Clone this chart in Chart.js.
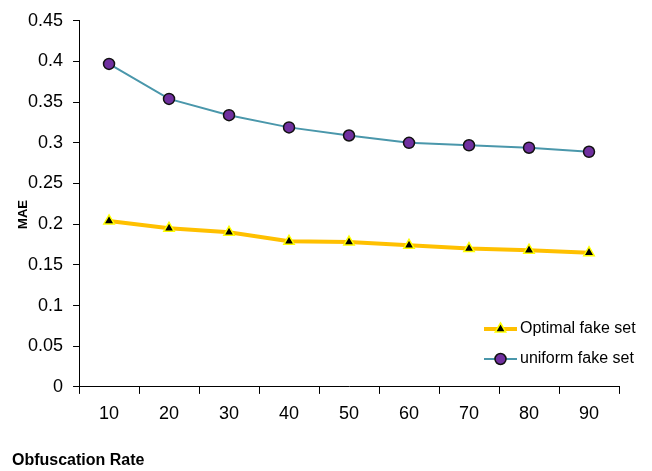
<!DOCTYPE html>
<html>
<head>
<meta charset="utf-8">
<script src="https://cdn.jsdelivr.net/npm/chart.js@4"></script>
<style>
  html, body { margin: 0; padding: 0; background: #fff; }
  #wrap { width: 652px; height: 471px; }
</style>
</head>
<body>
<div id="wrap"><canvas id="chart" width="652" height="471"></canvas></div>
<script>
var rates = ["10", "20", "30", "40", "50", "60", "70", "80", "90"];
var optimalFake = [0.204, 0.195, 0.190, 0.179, 0.178, 0.174, 0.170, 0.168, 0.165];
var uniformFake = [0.397, 0.354, 0.334, 0.319, 0.309, 0.300, 0.297, 0.294, 0.289];
var yTicks = [0, 0.05, 0.1, 0.15, 0.2, 0.25, 0.3, 0.35, 0.4, 0.45];

var FONT = "'Liberation Sans', Arial, sans-serif";

// legend drawn inside the plot, line + marker like the original
var insideLegend = {
    id: 'insideLegend',
    afterDraw: function (chart) {
        var ctx = chart.ctx;
        var x0 = 484, x1 = 517;
        var rows = [329, 359];
        chart.data.datasets.forEach(function (ds, i) {
            var y = rows[i];
            var cx = (x0 + x1) / 2;
            var r = ds.pointRadius;
            ctx.save();
            ctx.strokeStyle = ds.borderColor;
            ctx.lineWidth = ds.borderWidth;
            ctx.beginPath();
            ctx.moveTo(x0, y);
            ctx.lineTo(x1, y);
            ctx.stroke();
            ctx.fillStyle = ds.pointBackgroundColor;
            ctx.strokeStyle = ds.pointBorderColor;
            ctx.lineWidth = ds.pointBorderWidth;
            ctx.beginPath();
            if (ds.pointStyle === 'triangle') {
                ctx.moveTo(cx, y - r);
                ctx.lineTo(cx + r * 0.87, y + r * 0.5);
                ctx.lineTo(cx - r * 0.87, y + r * 0.5);
                ctx.closePath();
            } else {
                ctx.arc(cx, y, r, 0, Math.PI * 2);
            }
            ctx.fill();
            ctx.stroke();
            ctx.fillStyle = '#000';
            ctx.font = '16px ' + FONT;
            ctx.textBaseline = 'middle';
            ctx.textAlign = 'left';
            ctx.fillText(ds.label, x1 + 3, y);
            ctx.restore();
        });
    }
};

// axis titles sit near the canvas edges, not centred on the axes
var axisTitles = {
    id: 'axisTitles',
    afterDraw: function (chart) {
        var ctx = chart.ctx;
        ctx.save();
        ctx.fillStyle = '#000';
        ctx.textBaseline = 'middle';
        ctx.font = 'bold 16px ' + FONT;
        ctx.textAlign = 'left';
        ctx.fillText('Obfuscation Rate', 12, 461);
        ctx.translate(23.5, 214.5);
        ctx.rotate(-Math.PI / 2);
        ctx.font = 'bold 13px ' + FONT;
        ctx.textAlign = 'center';
        ctx.fillText('MAE', 0, 0);
        ctx.restore();
    }
};

var ctx = document.getElementById('chart').getContext('2d');
new Chart(ctx, {
    type: 'line',
    data: {
        labels: rates,
        datasets: [{
            label: 'Optimal fake set',
            data: optimalFake,
            borderColor: '#FFC000',
            borderWidth: 4,
            pointStyle: 'triangle',
            pointRadius: 6,
            pointBackgroundColor: '#000000',
            pointBorderColor: '#FFFF00',
            pointBorderWidth: 1.5,
            tension: 0
        }, {
            label: 'uniform fake set',
            data: uniformFake,
            borderColor: '#4A97AB',
            borderWidth: 2,
            pointStyle: 'circle',
            pointRadius: 5.5,
            pointBackgroundColor: '#7030A0',
            pointBorderColor: '#111111',
            pointBorderWidth: 1.5,
            tension: 0
        }]
    },
    options: {
        responsive: false,
        animation: false,
        layout: { padding: { top: 10, right: 33, left: 18, bottom: 37.5 } },
        plugins: {
            legend: { display: false },
            tooltip: { enabled: false }
        },
        scales: {
            x: {
                offset: true,
                grid: { offset: true, drawOnChartArea: false, drawTicks: true, tickLength: 7, color: '#000' },
                border: { color: '#000', width: 1 },
                ticks: { color: '#000', font: { family: FONT, size: 18 }, padding: 9 }
            },
            y: {
                min: 0,
                max: 0.45,
                afterBuildTicks: function (axis) {
                    axis.ticks = yTicks.map(function (v) { return { value: v }; });
                },
                grid: { drawOnChartArea: false, drawTicks: true, tickLength: 6, color: '#000' },
                border: { color: '#000', width: 1 },
                ticks: {
                    color: '#000',
                    font: { family: FONT, size: 18 },
                    padding: 10,
                    callback: function (v) { return String(Math.round(v * 100) / 100); }
                }
            }
        }
    },
    plugins: [insideLegend, axisTitles]
});
</script>
</body>
</html>
